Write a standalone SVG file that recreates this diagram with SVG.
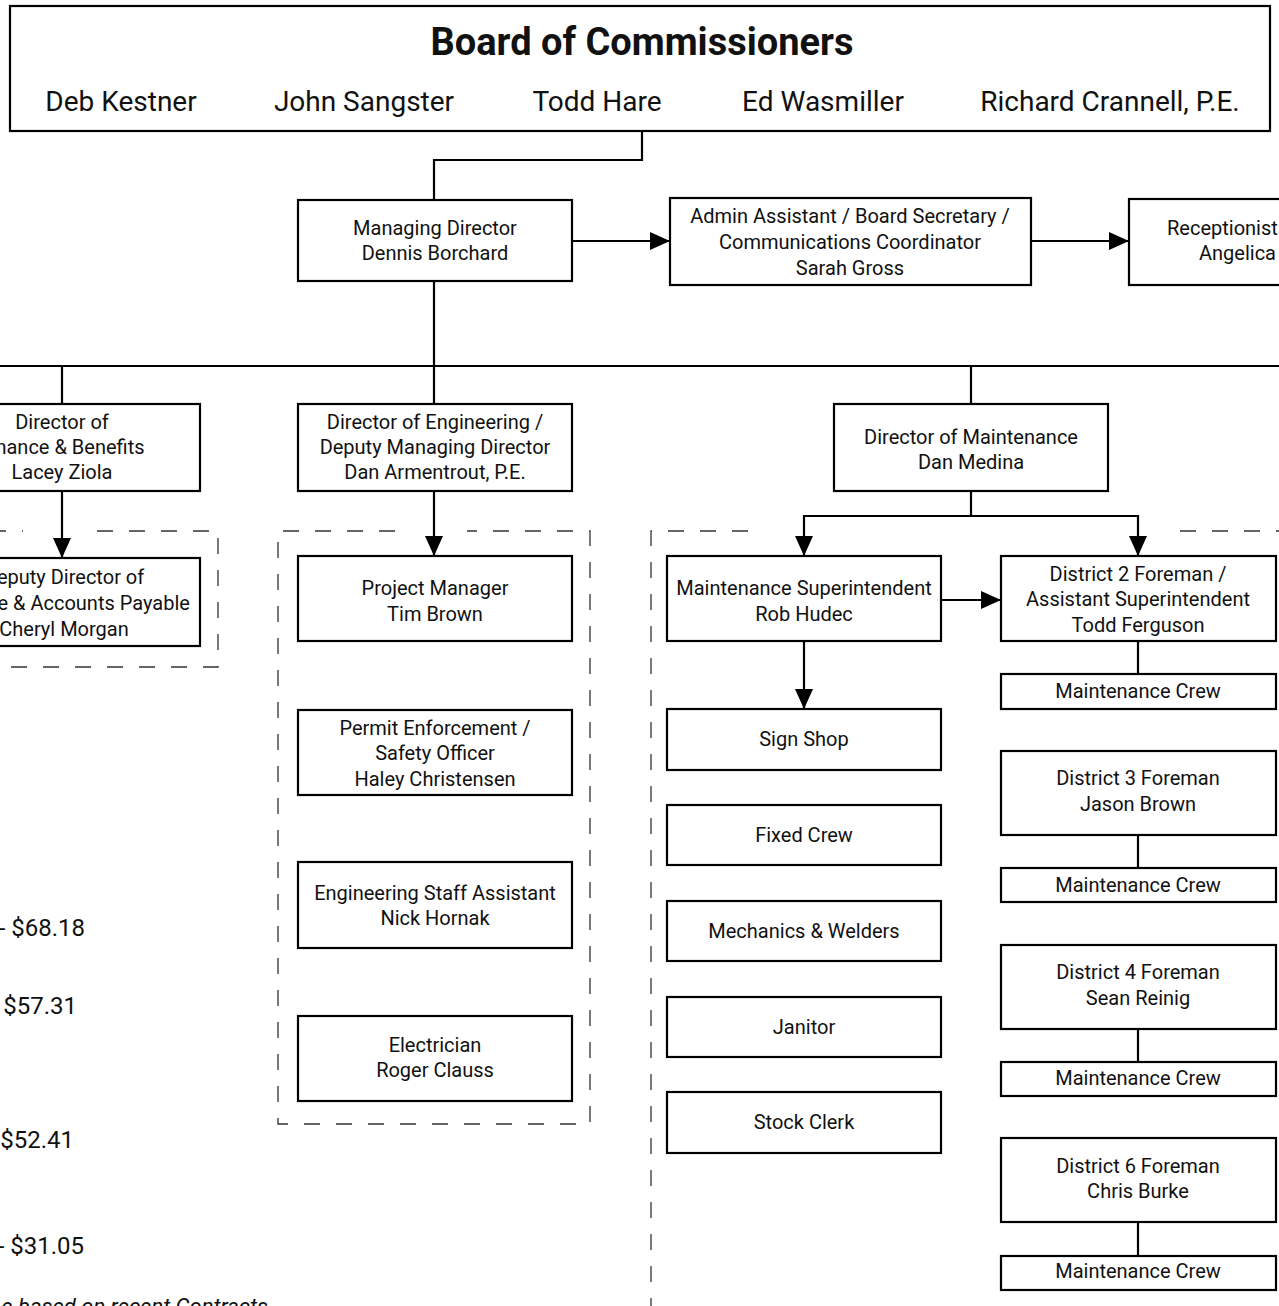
<svg xmlns="http://www.w3.org/2000/svg" width="1279" height="1306" viewBox="0 0 1279 1306">
<defs>
<style>
.box{fill:#fff;stroke:#000;stroke-width:2.2}
.ln{fill:none;stroke:#000;stroke-width:2.2}
.dash{fill:none;stroke:#333;stroke-width:1.3;stroke-dasharray:16 16}
text{font-family:Roboto,"Liberation Sans",sans-serif;fill:#111}
.t{font-size:20px;text-anchor:middle}
.title{font-size:38px;font-weight:bold;text-anchor:middle}
.nm{font-size:28px;text-anchor:middle}
.amt{font-size:24px}
.note{font-size:22px;font-style:italic}
</style>
<marker id="ah" viewBox="0 0 20 18" refX="20" refY="9" markerWidth="20" markerHeight="18" markerUnits="userSpaceOnUse" orient="auto">
<path d="M0,0 L20,9 L0,18 z" fill="#000"/>
</marker>
</defs>
<rect width="1279" height="1306" fill="#fff"/>

<g id="groups">
<path class="dash" d="M-10,531 L23,531 M97,531 L218,531 L218,667 L-10,667"/>
<path class="dash" d="M395,531 L278,531 L278,1124 L590,1124 L590,531 L467,531"/>
<path class="dash" d="M748,531 L651,531 L651,1320 M1180,531 L1290,531"/>
</g>

<g id="connectors">
<path class="ln" d="M642,131 L642,160 L434,160 L434,200"/>
<path class="ln" d="M572,241 L670,241" marker-end="url(#ah)"/>
<path class="ln" d="M1031,241 L1129,241" marker-end="url(#ah)"/>
<path class="ln" d="M434,281 L434,366"/>
<path class="ln" d="M-5,366 L1285,366"/>
<path class="ln" d="M62,366 L62,404"/>
<path class="ln" d="M434,366 L434,404"/>
<path class="ln" d="M971,366 L971,404"/>
<path class="ln" d="M62,491 L62,558" marker-end="url(#ah)"/>
<path class="ln" d="M434,491 L434,556" marker-end="url(#ah)"/>
<path class="ln" d="M971,491 L971,516"/>
<path class="ln" d="M804,516 L1138,516"/>
<path class="ln" d="M804,515 L804,556" marker-end="url(#ah)"/>
<path class="ln" d="M1138,515 L1138,556" marker-end="url(#ah)"/>
<path class="ln" d="M941,600 L1001,600" marker-end="url(#ah)"/>
<path class="ln" d="M804,641 L804,709" marker-end="url(#ah)"/>
<path class="ln" d="M1138,641 L1138,674"/>
<path class="ln" d="M1138,835 L1138,868"/>
<path class="ln" d="M1138,1029 L1138,1062"/>
<path class="ln" d="M1138,1222 L1138,1256"/>
</g>

<g id="board">
<rect class="box" x="10" y="6" width="1260" height="125"/>
<text class="title" x="642" y="55">Board of Commissioners</text>
<text class="nm" x="121" y="111">Deb Kestner</text>
<text class="nm" x="364" y="111">John Sangster</text>
<text class="nm" x="597" y="111">Todd Hare</text>
<text class="nm" x="823" y="111">Ed Wasmiller</text>
<text class="nm" x="1110" y="111">Richard Crannell, P.E.</text>
</g>

<g id="managing-director">
<rect class="box" x="298" y="200" width="274" height="81"/>
<text class="t" x="435" y="235">Managing Director</text>
<text class="t" x="435" y="260">Dennis Borchard</text>
</g>

<g id="admin-assistant">
<rect class="box" x="670" y="198" width="361" height="87"/>
<text class="t" x="850" y="223">Admin Assistant / Board Secretary /</text>
<text class="t" x="850" y="249">Communications Coordinator</text>
<text class="t" x="850" y="275">Sarah Gross</text>
</g>

<g id="receptionist">
<rect class="box" x="1129" y="199" width="280" height="86"/>
<text x="1167" y="235" style="font-size:20px">Receptionist</text>
<text x="1199" y="260" style="font-size:20px">Angelica</text>
</g>

<g id="director-finance">
<rect class="box" x="-74" y="404" width="274" height="87"/>
<text class="t" x="62" y="429">Director of</text>
<text class="t" x="62" y="454">Finance &amp; Benefits</text>
<text class="t" x="62" y="479">Lacey Ziola</text>
</g>

<g id="deputy-finance">
<rect class="box" x="-74" y="558" width="274" height="88"/>
<text class="t" x="64" y="584">Deputy Director of</text>
<text class="t" x="64" y="610">Finance &amp; Accounts Payable</text>
<text class="t" x="64" y="636">Cheryl Morgan</text>
</g>

<g id="director-engineering">
<rect class="box" x="298" y="404" width="274" height="87"/>
<text class="t" x="435" y="429">Director of Engineering /</text>
<text class="t" x="435" y="454">Deputy Managing Director</text>
<text class="t" x="435" y="479">Dan Armentrout, P.E.</text>
</g>

<g id="project-manager">
<rect class="box" x="298" y="556" width="274" height="85"/>
<text class="t" x="435" y="595">Project Manager</text>
<text class="t" x="435" y="621">Tim Brown</text>
</g>

<g id="permit-enforcement">
<rect class="box" x="298" y="710" width="274" height="85"/>
<text class="t" x="435" y="735">Permit Enforcement /</text>
<text class="t" x="435" y="760">Safety Officer</text>
<text class="t" x="435" y="786">Haley Christensen</text>
</g>

<g id="engineering-staff">
<rect class="box" x="298" y="862" width="274" height="86"/>
<text class="t" x="435" y="900">Engineering Staff Assistant</text>
<text class="t" x="435" y="925">Nick Hornak</text>
</g>

<g id="electrician">
<rect class="box" x="298" y="1016" width="274" height="85"/>
<text class="t" x="435" y="1052">Electrician</text>
<text class="t" x="435" y="1077">Roger Clauss</text>
</g>

<g id="director-maintenance">
<rect class="box" x="834" y="404" width="274" height="87"/>
<text class="t" x="971" y="444">Director of Maintenance</text>
<text class="t" x="971" y="469">Dan Medina</text>
</g>

<g id="maintenance-superintendent">
<rect class="box" x="667" y="556" width="274" height="85"/>
<text class="t" x="804" y="595">Maintenance Superintendent</text>
<text class="t" x="804" y="621">Rob Hudec</text>
</g>

<g id="sign-shop">
<rect class="box" x="667" y="709" width="274" height="61"/>
<text class="t" x="804" y="746">Sign Shop</text>
</g>
<g id="fixed-crew">
<rect class="box" x="667" y="805" width="274" height="60"/>
<text class="t" x="804" y="842">Fixed Crew</text>
</g>
<g id="mechanics">
<rect class="box" x="667" y="901" width="274" height="60"/>
<text class="t" x="804" y="938">Mechanics &amp; Welders</text>
</g>
<g id="janitor">
<rect class="box" x="667" y="997" width="274" height="60"/>
<text class="t" x="804" y="1034">Janitor</text>
</g>
<g id="stock-clerk">
<rect class="box" x="667" y="1092" width="274" height="61"/>
<text class="t" x="804" y="1129">Stock Clerk</text>
</g>

<g id="district-2">
<rect class="box" x="1001" y="556" width="275" height="85"/>
<text class="t" x="1138" y="581">District 2 Foreman /</text>
<text class="t" x="1138" y="606">Assistant Superintendent</text>
<text class="t" x="1138" y="632">Todd Ferguson</text>
</g>
<g id="crew-2">
<rect class="box" x="1001" y="674" width="275" height="35"/>
<text class="t" x="1138" y="698">Maintenance Crew</text>
</g>
<g id="district-3">
<rect class="box" x="1001" y="751" width="275" height="84"/>
<text class="t" x="1138" y="785">District 3 Foreman</text>
<text class="t" x="1138" y="811">Jason Brown</text>
</g>
<g id="crew-3">
<rect class="box" x="1001" y="868" width="275" height="34"/>
<text class="t" x="1138" y="892">Maintenance Crew</text>
</g>
<g id="district-4">
<rect class="box" x="1001" y="945" width="275" height="84"/>
<text class="t" x="1138" y="979">District 4 Foreman</text>
<text class="t" x="1138" y="1005">Sean Reinig</text>
</g>
<g id="crew-4">
<rect class="box" x="1001" y="1062" width="275" height="34"/>
<text class="t" x="1138" y="1085">Maintenance Crew</text>
</g>
<g id="district-6">
<rect class="box" x="1001" y="1138" width="275" height="84"/>
<text class="t" x="1138" y="1173">District 6 Foreman</text>
<text class="t" x="1138" y="1198">Chris Burke</text>
</g>
<g id="crew-6">
<rect class="box" x="1001" y="1256" width="275" height="34"/>
<text class="t" x="1138" y="1278">Maintenance Crew</text>
</g>

<g id="pay-notes">
<text class="amt" x="85" y="936" text-anchor="end">- $68.18</text>
<text class="amt" x="77" y="1014" text-anchor="end">$57.31</text>
<text class="amt" x="74" y="1148" text-anchor="end">$52.41</text>
<text class="amt" x="84" y="1254" text-anchor="end">- $31.05</text>
<text class="note" x="268" y="1314" text-anchor="end">e based on recent Contracts</text>
</g>
</svg>
